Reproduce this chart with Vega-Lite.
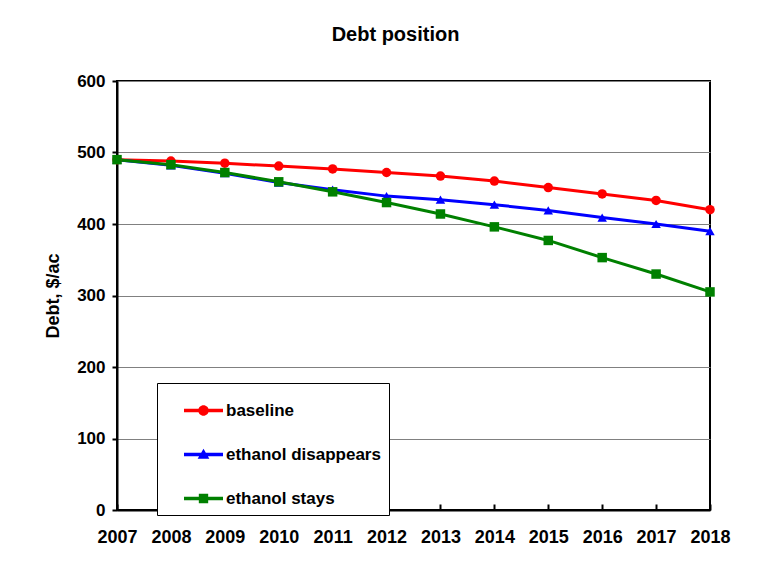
{
  "$schema": "https://vega.github.io/schema/vega-lite/v6.json",
  "width": 593,
  "height": 429,
  "autosize": {"type": "none"},
  "padding": {"left": 117, "top": 81, "right": 63, "bottom": 72},
  "background": "white",
  "title": {
    "text": "Debt position",
    "font": "Liberation Sans",
    "fontSize": 20,
    "fontWeight": "bold",
    "color": "black",
    "anchor": "middle",
    "dx": -18,
    "offset": 27
  },
  "config": {
    "view": {"stroke": "black", "strokeWidth": 2},
    "legend": {"strokeWidth": 1},
    "axis": {
      "labelFont": "Liberation Sans",
      "labelFontWeight": "bold",
      "labelColor": "black",
      "titleFont": "Liberation Sans",
      "titleFontSize": 18,
      "titleFontWeight": "bold",
      "titleColor": "black",
      "domainColor": "black",
      "domainWidth": 2,
      "tickColor": "black",
      "tickWidth": 2
    }
  },
  "data": {
    "values": [
      {"year": 2007, "scenario": "baseline", "debt": 490},
      {"year": 2008, "scenario": "baseline", "debt": 488},
      {"year": 2009, "scenario": "baseline", "debt": 485},
      {"year": 2010, "scenario": "baseline", "debt": 481},
      {"year": 2011, "scenario": "baseline", "debt": 477},
      {"year": 2012, "scenario": "baseline", "debt": 472},
      {"year": 2013, "scenario": "baseline", "debt": 467},
      {"year": 2014, "scenario": "baseline", "debt": 460},
      {"year": 2015, "scenario": "baseline", "debt": 451},
      {"year": 2016, "scenario": "baseline", "debt": 442},
      {"year": 2017, "scenario": "baseline", "debt": 433},
      {"year": 2018, "scenario": "baseline", "debt": 420},
      {"year": 2007, "scenario": "ethanol disappears", "debt": 490},
      {"year": 2008, "scenario": "ethanol disappears", "debt": 482},
      {"year": 2009, "scenario": "ethanol disappears", "debt": 471},
      {"year": 2010, "scenario": "ethanol disappears", "debt": 458},
      {"year": 2011, "scenario": "ethanol disappears", "debt": 448},
      {"year": 2012, "scenario": "ethanol disappears", "debt": 439},
      {"year": 2013, "scenario": "ethanol disappears", "debt": 434},
      {"year": 2014, "scenario": "ethanol disappears", "debt": 427},
      {"year": 2015, "scenario": "ethanol disappears", "debt": 419},
      {"year": 2016, "scenario": "ethanol disappears", "debt": 409},
      {"year": 2017, "scenario": "ethanol disappears", "debt": 400},
      {"year": 2018, "scenario": "ethanol disappears", "debt": 390},
      {"year": 2007, "scenario": "ethanol stays", "debt": 490},
      {"year": 2008, "scenario": "ethanol stays", "debt": 483},
      {"year": 2009, "scenario": "ethanol stays", "debt": 472},
      {"year": 2010, "scenario": "ethanol stays", "debt": 459},
      {"year": 2011, "scenario": "ethanol stays", "debt": 445},
      {"year": 2012, "scenario": "ethanol stays", "debt": 430},
      {"year": 2013, "scenario": "ethanol stays", "debt": 414},
      {"year": 2014, "scenario": "ethanol stays", "debt": 396},
      {"year": 2015, "scenario": "ethanol stays", "debt": 377},
      {"year": 2016, "scenario": "ethanol stays", "debt": 353},
      {"year": 2017, "scenario": "ethanol stays", "debt": 330},
      {"year": 2018, "scenario": "ethanol stays", "debt": 305}
    ]
  },
  "encoding": {
    "x": {
      "field": "year",
      "type": "quantitative",
      "scale": {"domain": [2007, 2018], "nice": false, "zero": false},
      "axis": {
        "title": null,
        "values": [2007, 2008, 2009, 2010, 2011, 2012, 2013, 2014, 2015, 2016, 2017, 2018],
        "format": "d",
        "grid": false,
        "tickSize": -6,
        "labelFontSize": 18,
        "labelPadding": 24,
        "labelFlush": false
      }
    },
    "y": {
      "field": "debt",
      "type": "quantitative",
      "scale": {"domain": [0, 600], "nice": false},
      "axis": {
        "title": "Debt, $/ac",
        "values": [0, 100, 200, 300, 400, 500, 600],
        "grid": true,
        "gridColor": "#808080",
        "gridWidth": 1,
        "tickSize": 5,
        "labelFontSize": 17,
        "labelPadding": 7,
        "titlePadding": 14
      }
    },
    "color": {
      "field": "scenario",
      "type": "nominal",
      "scale": {
        "domain": ["baseline", "ethanol disappears", "ethanol stays"],
        "range": ["#ff0000", "#0000ff", "#008000"]
      },
      "legend": {
        "title": null,
        "orient": "none",
        "legendX": 40,
        "legendY": 302,
        "direction": "vertical",
        "strokeColor": "black",
        "fillColor": "white",
        "padding": 8,
        "symbolOffset": 19,
        "symbolSize": 1521,
        "symbolType": "M-1,-0.09H1V0.09H-1Z",
        "labelFont": "Liberation Sans",
        "labelFontSize": 17,
        "labelFontWeight": "bold",
        "labelColor": "black",
        "labelOffset": 3,
        "labelLimit": 400,
        "rowPadding": 16,
        "encode": {
          "symbols": {
            "update": {
              "shape": {
                "signal": "datum.value == 'baseline' ? 'M-1,-0.09H1V0.09H-1Z M0.27,0A0.27,0.27 0 1,1 -0.27,0A0.27,0.27 0 1,1 0.27,0Z' : (datum.value == 'ethanol disappears' ? 'M-1,-0.09H1V0.09H-1Z M0,-0.3L0.3,0.22H-0.3Z' : 'M-1,-0.09H1V0.09H-1Z M-0.24,-0.24H0.24V0.24H-0.24Z')"
              },
              "fill": {"signal": "scale('color', datum.value)"},
              "strokeWidth": {"value": 0}
            }
          }
        }
      }
    }
  },
  "layer": [
    {
      "mark": {"type": "line", "strokeWidth": 3}
    },
    {
      "transform": [{"filter": "datum.scenario == 'baseline'"}],
      "mark": {"type": "point", "shape": "circle", "filled": true, "opacity": 1, "size": 90}
    },
    {
      "transform": [{"filter": "datum.scenario == 'ethanol disappears'"}],
      "mark": {"type": "point", "shape": "triangle-up", "filled": true, "opacity": 1, "size": 90}
    },
    {
      "transform": [{"filter": "datum.scenario == 'ethanol stays'"}],
      "mark": {"type": "point", "shape": "square", "filled": true, "opacity": 1, "size": 90}
    }
  ]
}
